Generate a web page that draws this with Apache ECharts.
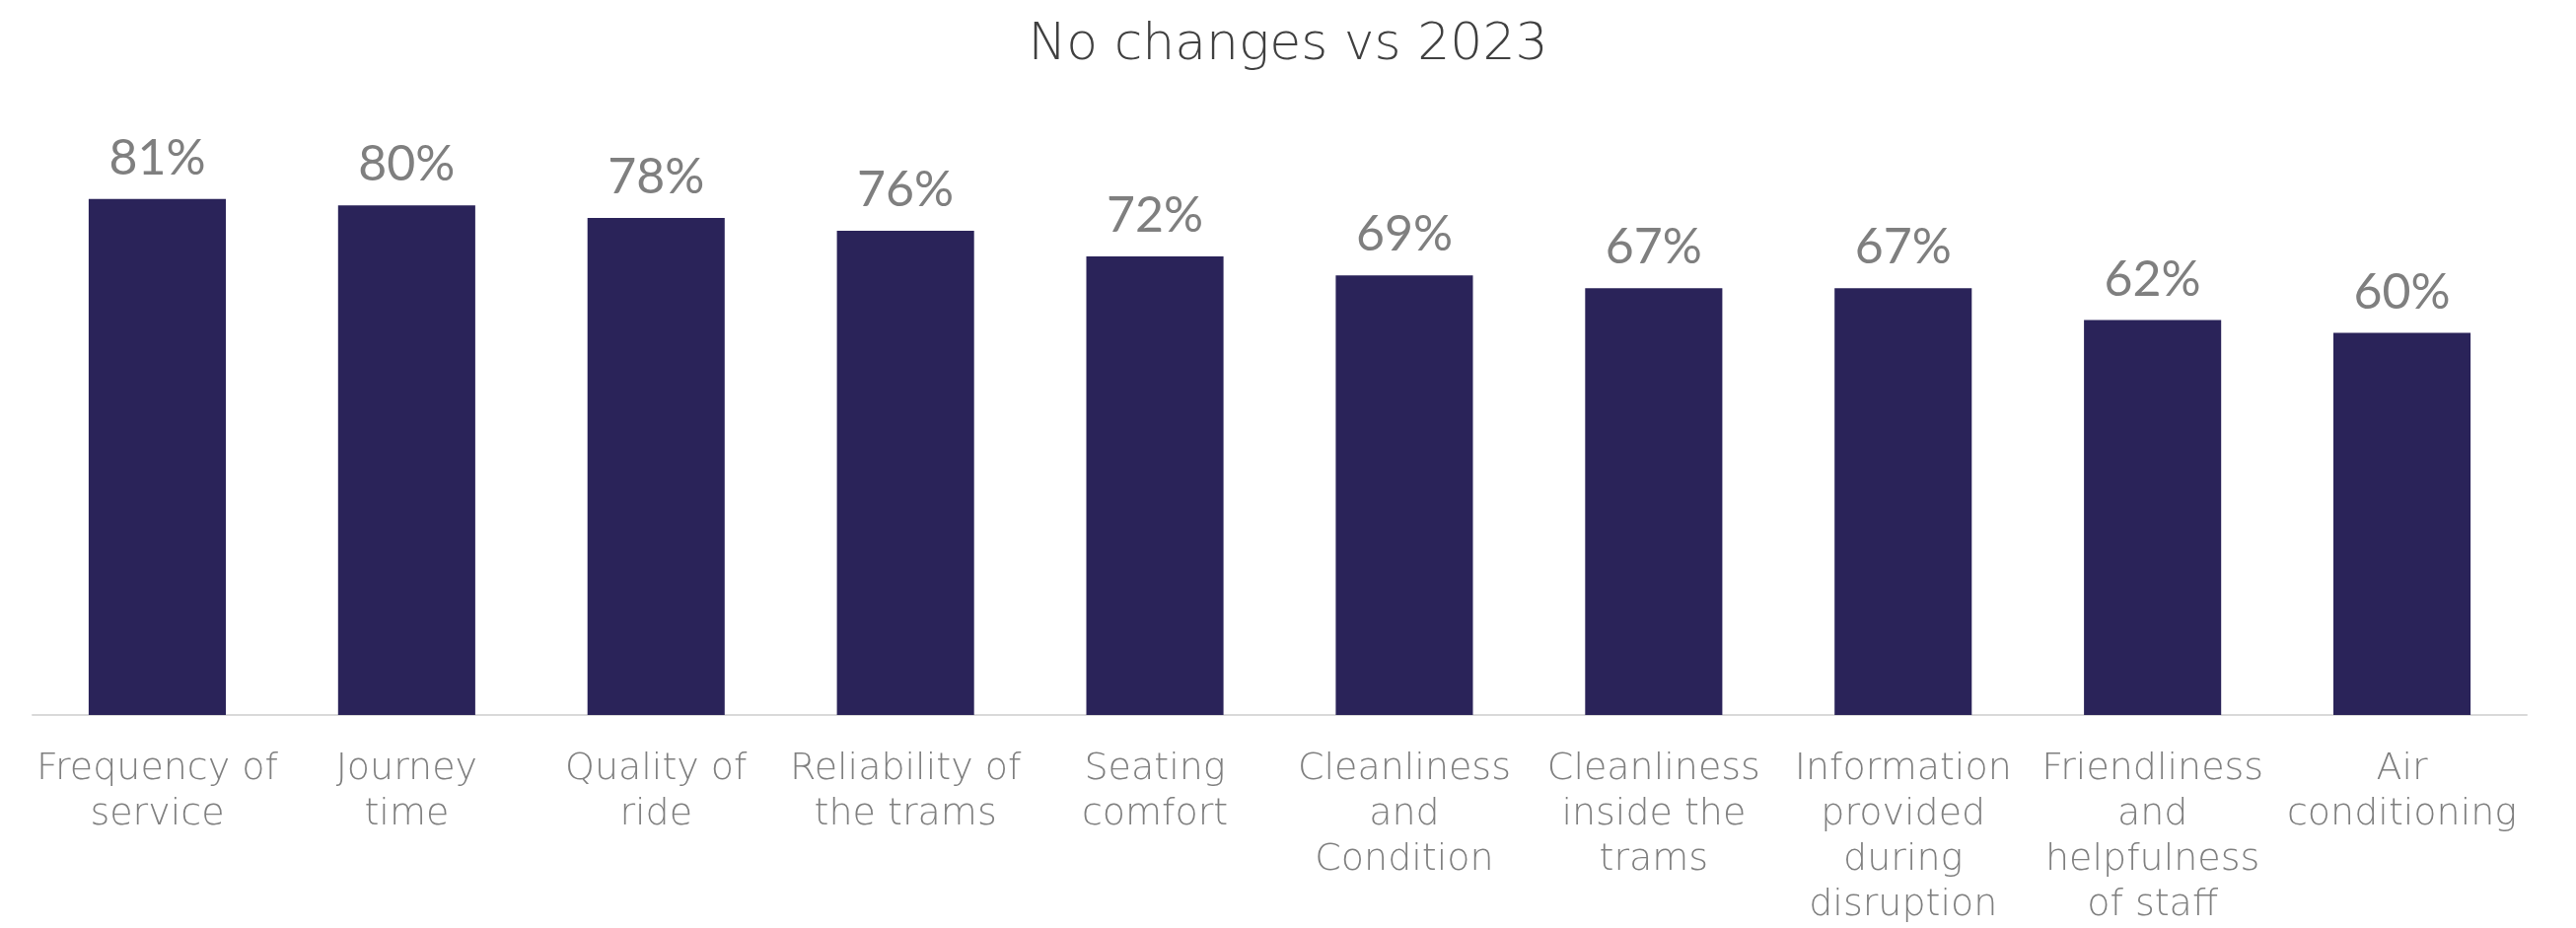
<!DOCTYPE html>
<html>
<head>
<meta charset="utf-8">
<script src="https://cdn.jsdelivr.net/npm/echarts@6/dist/echarts.min.js"></script>
<style>
  html, body { margin: 0; padding: 0; background: #ffffff; }
  #chart { width: 2612px; height: 941px; }
</style>
</head>
<body>
<div id="chart"></div>
<script>
// Satisfaction scores by service attribute (percent)
const titleText = 'No changes vs 2023';
const categories = [
  'Frequency of\nservice',
  'Journey\ntime',
  'Quality of\nride',
  'Reliability of\nthe trams',
  'Seating\ncomfort',
  'Cleanliness\nand\nCondition',
  'Cleanliness\ninside the\ntrams',
  'Information\nprovided\nduring\ndisruption',
  'Friendliness\nand\nhelpfulness\nof staff',
  'Air\nconditioning'
];
const scores = [81, 80, 78, 76, 72, 69, 67, 67, 62, 60];

const WIDE_FONT = '"DejaVu Sans", "Open Sans", sans-serif';
const NUM_FONT = 'Lato, "Open Sans", "Noto Sans", sans-serif';

const chart = echarts.init(document.getElementById('chart'), null, { renderer: 'canvas' });

chart.setOption({
  backgroundColor: '#ffffff',
  animation: false,
  title: {
    text: titleText,
    left: 'center',
    top: 15,
    textStyle: {
      fontFamily: WIDE_FONT,
      fontWeight: 200,
      fontSize: 52,
      color: '#404040'
    }
  },
  grid: {
    left: 33,
    right: 50,
    top: 79,
    bottom: 207,
    containLabel: false
  },
  xAxis: {
    type: 'category',
    data: categories,
    axisLine: { show: true, lineStyle: { color: '#d9d9d9', width: 2 } },
    axisTick: { show: false },
    axisLabel: {
      interval: 0,
      margin: 32,
      fontFamily: WIDE_FONT,
      fontWeight: 200,
      fontSize: 38,
      lineHeight: 46,
      color: '#7f7f7f',
      align: 'center'
    }
  },
  yAxis: {
    type: 'value',
    min: 0,
    max: 100,
    show: false,
    splitLine: { show: false }
  },
  series: [{
    type: 'bar',
    data: scores,
    barWidth: '55%',
    itemStyle: { color: '#2a2359' },
    label: {
      show: true,
      position: 'top',
      distance: 16,
      formatter: (p) => p.value + '%',
      fontFamily: NUM_FONT,
      fontWeight: 400,
      fontSize: 50,
      color: '#7f7f7f'
    }
  }]
});
</script>
</body>
</html>
